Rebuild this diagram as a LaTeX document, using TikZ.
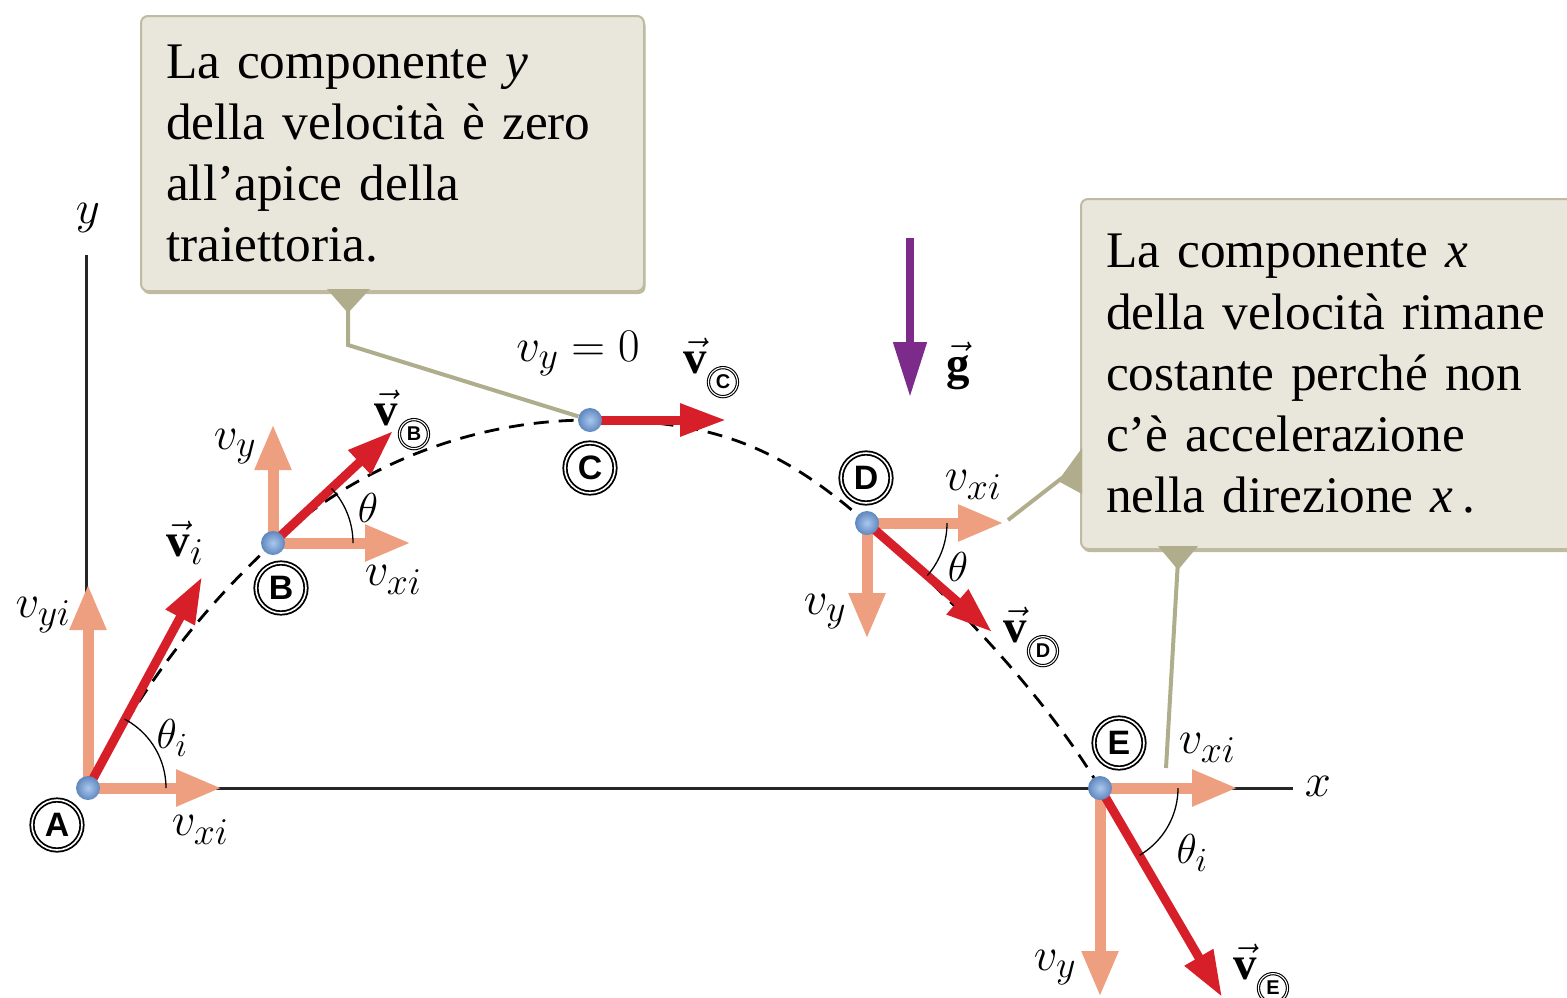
\documentclass[tikz,border=0pt]{standalone}
\usepackage{fix-cm}
\usepackage{fontspec}
\setmainfont{Liberation Serif}
\setsansfont{Liberation Sans}
\usetikzlibrary{arrows.meta,shadows}
\DeclareMathSizes{47}{47}{38}{30}
\DeclareMathSizes{42}{42}{34}{27}
\definecolor{boxfill}{RGB}{233,230,219}
\definecolor{boxedge}{RGB}{190,187,160}
\definecolor{ptr}{RGB}{176,173,140}
\definecolor{salmon}{RGB}{238,159,127}
\definecolor{vred}{RGB}{215,31,42}
\definecolor{gpurple}{RGB}{125,43,139}
\definecolor{ballin}{RGB}{170,200,238}
\definecolor{ballout}{RGB}{95,135,190}
\tikzset{
 salarrow/.style={draw=salmon, line width=11bp, -{Triangle[length=46bp,width=34bp]}},
 redarrow/.style={draw=vred, line width=9bp, -{Triangle[length=46bp,width=31bp]}},
 garrow/.style={draw=gpurple, line width=8bp, -{Triangle[length=55bp,width=32bp]}},
 traj/.style={draw=black, line width=2.8bp, dash pattern=on 15bp off 10bp},
 axisline/.style={draw=black!85, line width=3bp},
 ptrline/.style={draw=ptr, line width=4bp},
 callout/.style={fill=boxfill, draw=boxedge, line width=2bp, rounded corners=7bp,
   drop shadow={shadow xshift=1.5bp, shadow yshift=-3bp, fill=boxedge, opacity=1},
   align=left, inner xsep=25bp, inner ysep=0bp, font=\fontsize{51.5}{61.5}\selectfont, anchor=north west},
 ball/.style={circle, inner sep=0, minimum size=24bp},
 lab/.style={inner sep=0, font=\fontsize{47}{50}\selectfont},
 thlab/.style={inner sep=0, font=\fontsize{42}{46}\selectfont},
 circlet/.style={circle, draw, line width=1.8bp, double=white, double distance=1.6bp,
   minimum size=50bp, inner sep=0, font=\fontsize{34}{34}\selectfont\sffamily\bfseries},
 subcirc/.style={circle, draw, line width=1.1bp, double=white, double distance=1.1bp,
   minimum size=29bp, inner sep=0, font=\fontsize{20}{20}\selectfont\sffamily\bfseries},
 anglearc/.style={draw=black, line width=1.3bp},
}
\begin{document}
\begin{tikzpicture}[x=1bp,y=-1bp]
\useasboundingbox (0,0) rectangle (1567,997);

% callout boxes
\node[callout, minimum width=503bp, minimum height=275bp, text width=453bp] (box1) at (140,15)
 {La componente \textit{y}\\della velocità è zero\\all’apice della\\traiettoria.};
\node[callout, minimum width=520bp, minimum height=350bp, text width=470bp] (box2) at (1080,198)
 {La componente \textit{x}\\della velocità rimane\\costante perché non\\c’è accelerazione\\nella direzione \textit{x}\,.};

% axes
\coordinate (O) at (86,788);
\coordinate (yend) at (86,255);
\coordinate (xend) at (1293,788);
\draw[axisline] (yend) -- (O) -- (xend);
\node[lab] (ylab) at (88,218) {$y$};
\node[lab] (xlab) at (1318,786) {$x$};

% points
\node[ball] (A) at (88,788) {};
\node[ball] (B) at (273,543) {};
\node[ball] (C) at (590,420) {};
\node[ball] (D) at (867,523) {};
\node[ball] (E) at (1100,788) {};

% trajectory
\draw[traj] (A.center) .. controls (150,672) and (208,604) .. (B.center)
  .. controls (346,475) and (460,420) .. (C.center)
  .. controls (710,420) and (777,444) .. (D.center)
  .. controls (947,593) and (1045,695) .. (E.center);

% pointers
\coordinate (p1b) at (348,345);
\fill[ptr] (327,289) -- (370,289) -- (348,313) -- cycle;
\draw[ptrline] (box1.south -| p1b) -- (p1b) -- (C);
\coordinate (q0) at (1062,478);
\coordinate (q1) at (1008,520);
\fill[ptr] (1082,448) -- (1082,494) -- (1058,481) -- cycle;
\draw[ptrline] (q0) -- (q1);
\coordinate (r0) at (1178,560);
\coordinate (q2) at (1166,768);
\fill[ptr] (1158,546) -- (1198,546) -- (1178,570) -- cycle;
\draw[ptrline] (r0) -- (q2);

% arrow end points
\coordinate (Ax) at (222,788); \coordinate (Ay) at (88,584); \coordinate (Av) at (202,577);
\coordinate (Bx) at (411,543); \coordinate (By) at (273,424); \coordinate (Bv) at (393,431);
\coordinate (Cv) at (726,420);
\coordinate (Dx) at (1004,523); \coordinate (Dy) at (867,639); \coordinate (Dv) at (992,632);
\coordinate (Ex) at (1238,788); \coordinate (Ey) at (1100,997); \coordinate (Ev) at (1222,997);

% component arrows
\draw[salarrow] (A.center) -- (Ax);
\draw[salarrow] (A.center) -- (Ay);
\draw[salarrow] (B.center) -- (Bx);
\draw[salarrow] (B.center) -- (By);
\draw[salarrow] (D.center) -- (Dx);
\draw[salarrow] (D.center) -- (Dy);
\draw[salarrow] (E.center) -- (Ex);
\draw[salarrow] (E.center) -- (Ey);

% velocity arrows
\draw[redarrow] (A.center) -- (Av);
\draw[redarrow] (B.center) -- (Bv);
\draw[redarrow] (C.center) -- (Cv);
\draw[redarrow] (D.center) -- (Dv);
\draw[redarrow] (E.center) -- (Ev);

% gravity
\coordinate (g0) at (910,238);
\coordinate (g1) at (910,397);
\draw[garrow] (g0) -- (g1);
\node[lab] (glab) at (958,366) {$\vec{\mathbf g}$};

% angle arcs
\draw[anglearc] plot[domain=0:62,samples=30] ({88+78*cos(\x)},{788-78*sin(\x)});
\draw[anglearc] plot[domain=0:43,samples=30] ({273+80*cos(\x)},{543-80*sin(\x)});
\draw[anglearc] plot[domain=0:41,samples=30] ({867+80*cos(\x)},{523+80*sin(\x)});
\draw[anglearc] plot[domain=0:59.5,samples=30] ({1100+78*cos(\x)},{788+78*sin(\x)});

% balls on top
\foreach \p in {A,B,C,D,E} \shade[inner color=ballin, outer color=ballout] (\p.center) circle[radius=12];

% labels A
\node[circlet] (cA) at (57,825) {A};
\node[lab] (lvyiA) at (43,615) {$v_{yi}$};
\node[lab] (lvxiA) at (200,830) {$v_{xi}$};
\node[lab] (lviA) at (185,543) {$\vec{\mathbf v}_i$};
\node[thlab] (ltA) at (172,738) {$\theta_i$};
% labels B
\node[circlet] (cB) at (281,588) {B};
\node[lab] (lvyB) at (235,447) {$v_y$};
\node[lab] (lvxB) at (393,580) {$v_{xi}$};
\node[thlab] (ltB) at (368,508) {$\theta$};
\node[lab] (lvB) at (386,408) {$\vec{\mathbf v}$};
\node[subcirc, anchor=west] (sB) at ([xshift=1bp,yshift=-9bp]lvB.base east) {B};
% labels C
\node[circlet] (cC) at (590,468) {C};
\node[lab] (lvyC) at (578,354) {$v_y = 0$};
\node[lab] (lvC) at (695,356) {$\vec{\mathbf v}$};
\node[subcirc, anchor=west] (sC) at ([xshift=1bp,yshift=-9bp]lvC.base east) {C};
% labels D
\node[circlet] (cD) at (866,478) {D};
\node[lab] (lvxD) at (973,485) {$v_{xi}$};
\node[thlab] (ltD) at (958,567) {$\theta$};
\node[lab] (lvyD) at (825,612) {$v_y$};
\node[lab] (lvD) at (1015,625) {$\vec{\mathbf v}$};
\node[subcirc, anchor=west] (sD) at ([xshift=1bp,yshift=-9bp]lvD.base east) {D};
% labels E
\node[circlet] (cE) at (1119,743) {E};
\node[lab] (lvxE) at (1207,748) {$v_{xi}$};
\node[thlab] (ltE) at (1192,853) {$\theta_i$};
\node[lab] (lvyE) at (1055,968) {$v_y$};
\node[lab] (lvE) at (1245,962) {$\vec{\mathbf v}$};
\node[subcirc, anchor=west] (sE) at ([xshift=1bp,yshift=-9bp]lvE.base east) {E};
\end{tikzpicture}
\end{document}
